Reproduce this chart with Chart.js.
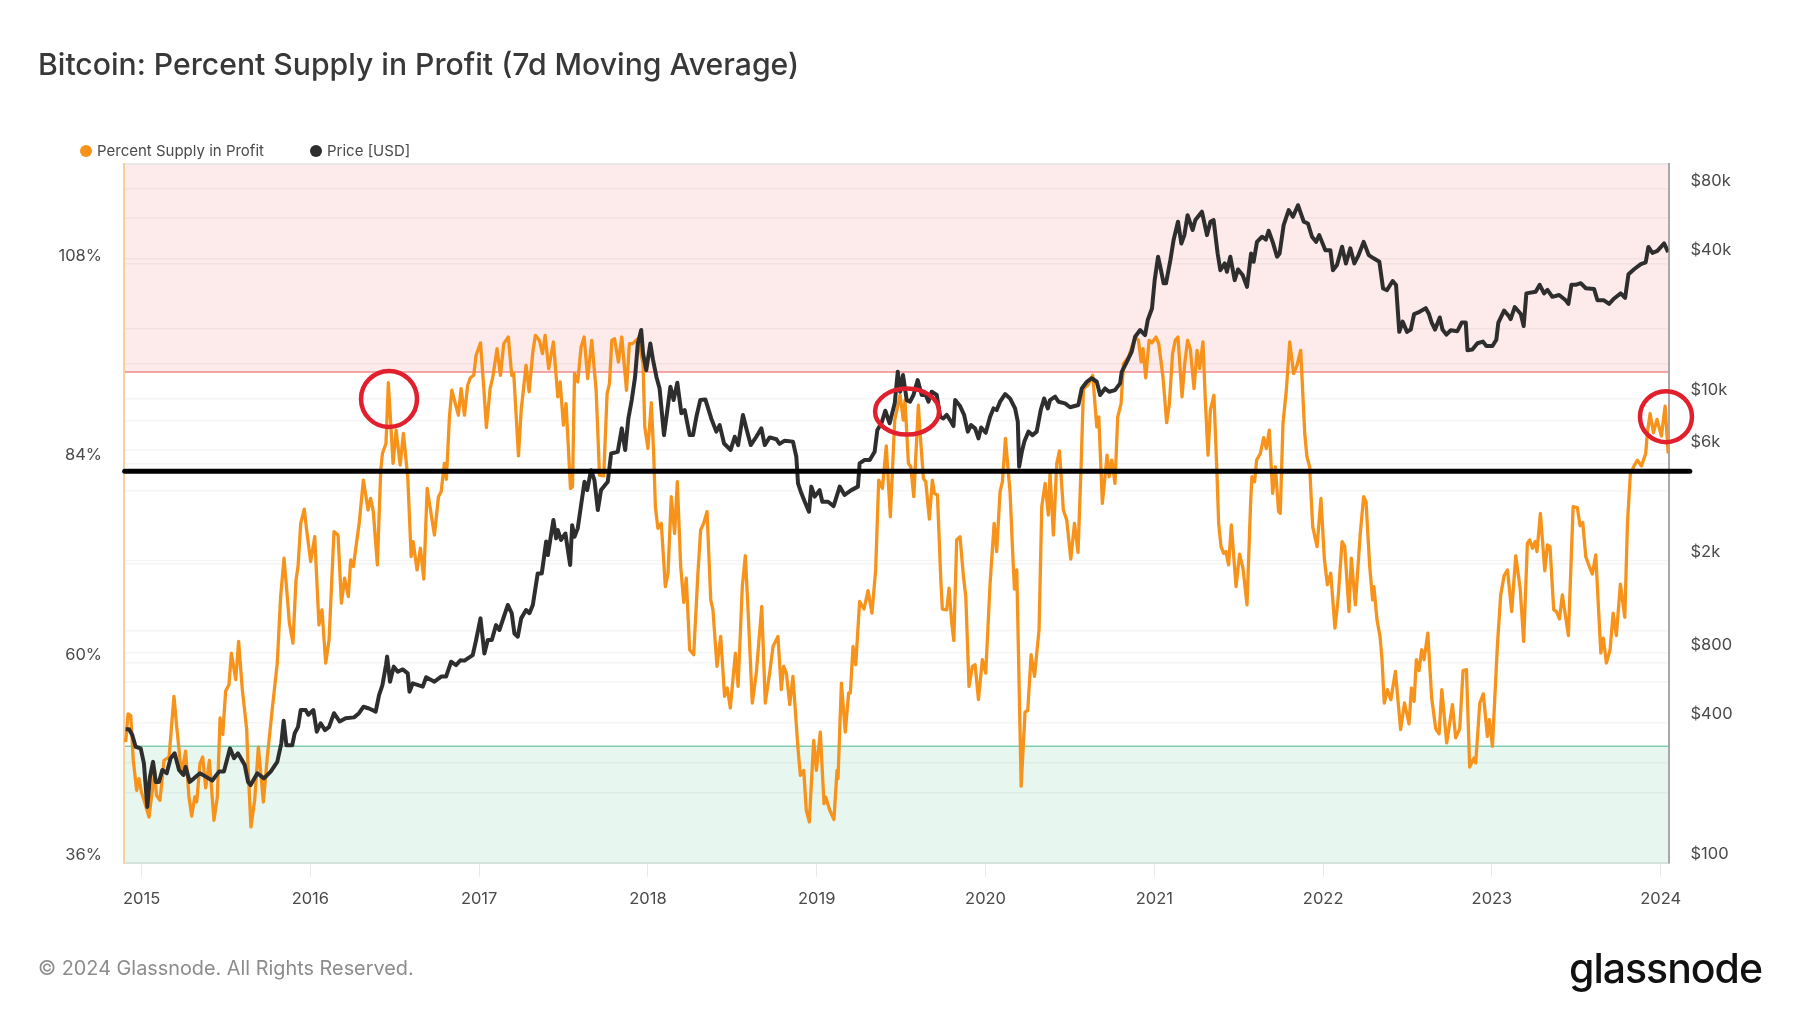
<!DOCTYPE html>
<html>
<head>
<meta charset="utf-8">
<title>Bitcoin: Percent Supply in Profit</title>
<script src="https://cdn.jsdelivr.net/npm/chart.js@4"></script>
<style>
    html, body { margin: 0; padding: 0; background: #fff; }
    body { width: 1800px; height: 1013px; position: relative; overflow: hidden; font-family: Inter, sans-serif; }
    canvas { position: absolute; left: 0; top: 0; }
    .title { position: absolute; left: 38px; top: 46px; font-size: 30.15px; font-weight: 500; color: #383838; white-space: nowrap; }
    .legend { position: absolute; top: 141px; font-size: 15px; color: #4a4a4a; white-space: nowrap; }
    .legend i { display: inline-block; width: 12px; height: 12px; border-radius: 50%; margin-right: 5px; vertical-align: -1px; }
    .footer { position: absolute; left: 38px; top: 956px; font-size: 19.85px; color: #8c8c8c; white-space: nowrap; }
    .logo { position: absolute; left: 1569px; top: 943px; font-size: 41px; font-weight: 500; letter-spacing: -1px; color: #111; white-space: nowrap; }
</style>
</head>
<body>
<canvas id="chart" width="1800" height="1013"></canvas>
<div class="title">Bitcoin: Percent Supply in Profit (7d Moving Average)</div>
<div class="legend" id="legend-0" style="left:80px"></div>
<div class="legend" id="legend-1" style="left:310px"></div>
<div class="footer">© 2024 Glassnode. All Rights Reserved.</div>
<div class="logo">glassnode</div>

<script>
const seriesNames = ['Percent Supply in Profit', 'Price [USD]'];
const seriesColors = ['#f7931a', '#2e2e2e'];

const yearTicks = [2015, 2016, 2017, 2018, 2019, 2020, 2021, 2022, 2023, 2024];
const percentTicks = [36, 48, 60, 72, 84, 96, 108, 120];
const percentLabels = { 36: '36%', 60: '60%', 84: '84%', 108: '108%' };
const priceTicks = [100, 200, 400, 600, 800, 1000, 2000, 4000, 6000, 8000, 10000, 20000, 40000, 60000, 80000];
const priceLabels = { 100: '$100', 400: '$400', 800: '$800', 2000: '$2k', 6000: '$6k', 10000: '$10k', 40000: '$40k', 80000: '$80k' };

const profitZoneFloor = 95;
const lossZoneCeiling = 50;
const referenceLevel = 83.05;
const referenceDates = [2014.9, 2024.172];

// year, percent, and the drawn radius of each hand marked ring
const ringDates = [2016.466, 2019.535, 2024.031];
const ringPercents = [91.75, 90.24, 89.62];
const ringRadiiX = [28, 32, 26];
const ringRadiiY = [28, 23, 25.5];

const supplyDates = [
    2014.906,2014.920,2014.936,2014.951,2014.971,2014.985,2014.999,2015.018,2015.044,2015.064,
    2015.078,2015.088,2015.109,2015.133,2015.163,2015.192,2015.208,2015.222,2015.236,2015.261,
    2015.281,2015.297,2015.315,2015.327,2015.346,2015.362,2015.380,2015.402,2015.429,2015.449,
    2015.465,2015.481,2015.498,2015.518,2015.532,2015.558,2015.575,2015.597,2015.623,2015.631,
    2015.648,2015.670,2015.692,2015.722,2015.745,2015.775,2015.804,2015.824,2015.844,2015.860,
    2015.876,2015.897,2015.915,2015.927,2015.943,2015.964,2015.978,2016.002,2016.026,2016.051,
    2016.069,2016.091,2016.111,2016.140,2016.164,2016.184,2016.203,2016.225,2016.239,2016.255,
    2016.269,2016.290,2016.314,2016.342,2016.357,2016.373,2016.397,2016.417,2016.427,2016.448,

    2016.462,2016.490,2016.508,2016.532,2016.551,2016.577,2016.597,2016.609,2016.632,2016.652,
    2016.672,2016.692,2016.735,2016.759,2016.775,2016.794,2016.806,2016.824,2016.838,2016.877,
    2016.893,2016.913,2016.932,2016.948,2016.968,2016.982,2017.008,2017.027,2017.043,2017.065,
    2017.081,2017.106,2017.126,2017.146,2017.173,2017.193,2017.205,2017.233,2017.249,2017.278,
    2017.296,2017.318,2017.333,2017.357,2017.375,2017.391,2017.412,2017.440,2017.466,2017.480,
    2017.499,2017.515,2017.541,2017.553,2017.565,2017.584,2017.604,2017.622,2017.643,2017.667,
    2017.693,2017.713,2017.738,2017.758,2017.772,2017.786,2017.802,2017.825,2017.845,2017.873,
    2017.890,2017.910,2017.940,

    2017.957,2017.971,2017.981,2018.000,2018.020,2018.034,2018.044,2018.059,2018.079,2018.103,
    2018.119,2018.138,2018.158,2018.174,2018.194,2018.212,2018.227,2018.247,2018.271,2018.296,
    2018.312,2018.330,2018.350,2018.372,2018.385,2018.409,2018.431,2018.454,2018.470,2018.488,
    2018.518,2018.534,2018.559,2018.577,2018.593,2018.618,2018.642,2018.674,2018.695,2018.721,
    2018.741,2018.770,2018.790,2018.804,2018.820,2018.840,2018.859,2018.889,2018.903,2018.923,
    2018.938,2018.956,2018.982,2018.998,2019.021,2019.043,2019.053,2019.077,2019.102,2019.120,
    2019.126,2019.146,2019.169,2019.189,2019.199,2019.215,2019.231,2019.254,2019.280,2019.304,
    2019.327,2019.349,2019.367,2019.389,2019.412,2019.436,2019.462,

    2019.494,2019.513,2019.523,2019.543,2019.557,2019.575,2019.602,2019.614,2019.632,2019.646,
    2019.667,2019.685,2019.697,2019.715,2019.735,2019.744,2019.770,2019.784,2019.800,2019.812,
    2019.829,2019.849,2019.869,2019.883,2019.902,2019.922,2019.938,2019.958,2019.981,2020.001,
    2020.027,2020.051,2020.066,2020.086,2020.100,2020.118,2020.145,2020.165,2020.171,2020.185,
    2020.211,2020.234,2020.250,2020.270,2020.290,2020.317,2020.333,2020.353,2020.372,2020.382,
    2020.402,2020.422,2020.438,2020.461,2020.481,2020.505,2020.527,2020.548,2020.566,2020.580,
    2020.606,2020.635,2020.659,2020.671,2020.692,2020.720,2020.732,2020.748,2020.767,2020.783,
    2020.803,2020.817,2020.847,2020.886,2020.906,2020.922,2020.933,2020.949,2020.969,

    2020.986,2021.010,2021.026,2021.051,2021.073,2021.089,2021.108,2021.124,2021.140,2021.164,
    2021.180,2021.197,2021.213,2021.235,2021.253,2021.268,2021.288,2021.302,2021.318,2021.332,
    2021.353,2021.371,2021.381,2021.395,2021.411,2021.424,2021.440,2021.456,2021.484,2021.505,
    2021.525,2021.549,2021.571,2021.578,2021.594,2021.606,2021.628,2021.648,2021.663,2021.681,
    2021.701,2021.717,2021.736,2021.746,2021.762,2021.782,2021.802,2021.825,2021.845,2021.867,
    2021.891,2021.904,2021.920,2021.938,2021.964,2021.987,2022.007,2022.025,2022.045,2022.070,
    2022.088,2022.112,2022.128,2022.153,2022.167,2022.191,2022.220,2022.240,2022.254,2022.276,
    2022.293,2022.301,2022.319,2022.337,2022.349,2022.362,2022.381,2022.401,2022.428,2022.459,
    2022.482,

    2022.509,2022.523,2022.539,2022.552,2022.568,2022.584,2022.598,2022.620,2022.643,2022.667,
    2022.687,2022.703,2022.732,2022.766,2022.785,2022.809,2022.829,2022.849,2022.868,2022.894,
    2022.904,2022.928,2022.949,2022.973,2022.985,2023.003,2023.032,2023.052,2023.072,2023.092,
    2023.117,2023.141,2023.167,2023.188,2023.210,2023.224,2023.240,2023.256,2023.267,2023.287,
    2023.313,2023.329,2023.344,2023.366,2023.382,2023.400,2023.417,2023.453,2023.481,2023.506,
    2023.522,2023.538,2023.556,2023.575,2023.595,2023.615,2023.645,2023.660,2023.678,2023.700,
    2023.718,2023.737,2023.761,2023.787,2023.803,2023.820,2023.842,2023.862,2023.886,2023.911,
    2023.921,2023.937,2023.957,2023.978,2024.004,2024.026,2024.044
];

const supplyValues = [
    50.5,53.9,53.7,48.3,44.7,46.1,44.5,43.3,41.5,44.7,
    47.1,44.1,43.5,48.3,48.7,56.0,52.4,49.6,46.7,49.4,
    43.9,41.6,43.9,43.3,47.9,48.7,45.0,48.3,41.1,43.9,
    53.4,51.4,56.6,57.4,61.2,58.0,62.6,56.8,52.0,47.5,
    40.3,43.5,49.9,43.3,48.7,54.6,60.0,68.0,72.6,68.8,
    64.8,62.4,70.0,71.6,76.8,78.5,76.0,72.2,75.2,64.6,
    66.4,60.0,62.8,75.8,75.4,67.2,70.2,68.0,72.4,71.6,
    73.8,76.9,82.0,78.4,79.8,78.2,71.8,83.2,85.2,86.4,

    93.7,84.0,88.0,83.8,87.6,82.4,72.8,74.6,71.2,73.8,
    70.1,81.0,75.4,80.0,80.6,84.0,82.1,89.6,92.8,89.8,
    93.0,89.8,93.4,94.3,94.6,97.0,98.5,93.2,88.3,93.0,
    94.4,97.8,94.6,98.4,99.2,94.6,94.8,84.9,90.4,95.8,
    92.6,97.4,99.4,98.8,97.2,99.4,95.4,98.6,92.0,93.8,
    88.6,91.2,81.0,81.2,94.8,93.8,98.0,99.2,94.2,98.8,
    92.8,82.6,82.5,92.4,93.6,98.8,99.0,96.2,99.2,92.8,
    98.4,98.4,99.0,

    97.4,96.0,88.4,85.8,91.3,85.2,78.8,76.2,76.8,69.2,
    70.8,80.0,75.6,81.8,71.6,67.3,70.2,61.6,61.0,70.8,
    76.0,76.8,78.2,67.6,66.4,59.6,63.2,56.0,57.0,54.6,
    61.2,57.2,69.2,72.9,66.4,55.2,58.8,66.8,55.2,58.8,
    62.0,63.2,56.8,59.6,58.8,55.0,58.4,49.7,46.5,47.1,
    42.3,40.9,50.7,47.1,51.7,43.1,43.9,42.3,41.2,47.1,
    46.1,57.6,51.7,56.4,56.4,62.0,59.8,67.4,66.5,68.7,
    66.0,71.2,82.0,81.0,86.1,77.6,89.2,

    92.2,89.2,91.6,84.0,83.6,80.0,91.0,87.2,82.2,81.8,
    77.3,82.0,80.4,80.2,70.0,66.5,66.4,69.0,64.8,62.7,
    74.8,75.2,70.4,68.0,57.2,59.6,59.8,55.6,60.4,58.8,
    69.6,76.8,73.4,80.6,81.8,87.0,80.6,71.4,68.9,71.2,
    45.2,54.1,54.3,61.0,58.4,64.0,78.8,81.6,77.8,82.8,
    75.4,84.0,85.5,78.4,77.2,72.5,76.8,73.3,83.6,93.0,
    93.4,94.6,88.4,89.6,79.2,85.0,82.4,84.4,81.6,89.6,
    91.2,96.0,96.8,99.2,98.8,96.2,97.8,94.3,98.8,

    98.5,99.2,98.4,94.4,88.9,91.2,97.2,98.8,99.2,92.0,
    96.0,98.8,97.8,93.0,97.6,95.4,98.6,91.6,85.0,90.4,
    92.2,82.8,76.8,74.0,73.2,73.4,71.8,76.6,69.2,73.1,
    71.4,67.0,79.6,82.4,81.8,84.4,85.2,87.1,85.8,88.0,
    80.4,83.6,78.2,78.0,88.8,92.8,98.6,94.8,95.8,97.6,
    87.6,84.8,83.6,76.4,74.0,79.8,72.6,69.4,70.8,64.2,
    67.6,74.6,74.0,66.2,72.6,67.0,75.6,80.0,79.4,71.6,
    67.6,69.2,65.2,63.2,60.4,55.2,56.8,55.6,59.0,52.0,
    55.2,

    52.7,57.0,55.4,60.4,59.1,61.6,60.4,63.6,55.8,52.1,
    51.5,56.8,50.4,55.0,51.0,52.1,59.1,59.2,47.5,48.6,
    48.0,55.2,56.3,51.2,53.2,50.0,62.0,68.2,70.5,71.2,
    66.2,72.9,69.0,62.6,74.4,74.8,73.8,74.6,73.4,78.0,
    71.1,74.2,74.0,66.4,66.2,65.3,68.2,63.3,78.8,78.7,
    76.5,76.9,72.8,71.7,70.7,73.0,61.2,63.0,60.0,61.6,
    66.0,63.3,69.5,65.5,76.9,82.7,83.7,84.4,83.7,85.2,
    87.7,90.0,87.7,89.3,87.3,90.9,85.2
];

const priceDates = [
    2014.906,2014.926,2014.945,2014.965,2014.995,2015.014,2015.034,2015.050,2015.068,2015.084,
    2015.103,2015.123,2015.149,2015.172,2015.196,2015.222,2015.248,2015.261,2015.285,2015.311,
    2015.346,2015.380,2015.419,2015.459,2015.488,2015.524,2015.548,2015.571,2015.611,2015.631,
    2015.646,2015.686,2015.725,2015.765,2015.804,2015.828,2015.842,2015.858,2015.893,2015.907,
    2015.927,2015.943,2015.972,2015.988,2016.018,2016.038,2016.061,2016.087,2016.111,2016.140,
    2016.174,2016.209,2016.259,2016.288,2016.314,2016.348,2016.387,2016.407,2016.427,2016.448,

    2016.455,2016.472,2016.494,2016.518,2016.547,2016.577,2016.587,2016.607,2016.666,2016.686,
    2016.735,2016.775,2016.804,2016.834,2016.863,2016.889,2016.913,2016.962,2016.982,2017.008,
    2017.031,2017.051,2017.075,2017.100,2017.120,2017.170,2017.193,2017.209,2017.229,2017.249,
    2017.278,2017.298,2017.318,2017.347,2017.371,2017.397,2017.407,2017.440,2017.456,2017.466,
    2017.485,2017.511,2017.539,2017.551,2017.565,2017.584,2017.604,2017.624,2017.640,2017.663,
    2017.683,2017.703,2017.722,2017.762,2017.782,2017.821,2017.845,2017.865,2017.884,2017.904,
    2017.924,2017.940,2017.960,

    2017.971,2017.990,2018.014,2018.030,2018.050,2018.069,2018.095,2018.115,2018.133,2018.152,
    2018.174,2018.198,2018.218,2018.247,2018.267,2018.287,2018.310,2018.340,2018.375,2018.405,
    2018.425,2018.451,2018.490,2018.514,2018.534,2018.563,2018.583,2018.609,2018.642,2018.672,
    2018.692,2018.721,2018.761,2018.780,2018.810,2018.859,2018.879,2018.889,2018.909,2018.929,
    2018.954,2018.968,2018.988,2019.017,2019.033,2019.067,2019.100,2019.136,2019.165,2019.205,
    2019.244,2019.254,2019.284,2019.314,2019.343,2019.359,2019.383,2019.406,2019.432,2019.462,

    2019.480,2019.494,2019.511,2019.533,2019.553,2019.573,2019.598,2019.622,2019.646,2019.662,
    2019.681,2019.711,2019.731,2019.750,2019.770,2019.790,2019.810,2019.820,2019.849,2019.873,
    2019.895,2019.914,2019.938,2019.958,2019.974,2020.001,2020.027,2020.047,2020.066,2020.086,
    2020.116,2020.145,2020.175,2020.191,2020.199,2020.215,2020.230,2020.254,2020.278,2020.303,
    2020.327,2020.347,2020.369,2020.382,2020.412,2020.432,2020.471,2020.501,2020.550,2020.570,
    2020.600,2020.629,2020.659,2020.679,2020.708,2020.732,2020.767,2020.797,2020.807,2020.837,
    2020.866,2020.886,2020.916,2020.945,2020.961,

    2020.986,2021.002,2021.022,2021.035,2021.055,2021.069,2021.095,2021.114,2021.140,2021.160,
    2021.178,2021.197,2021.227,2021.243,2021.282,2021.312,2021.332,2021.351,2021.375,2021.391,
    2021.417,2021.430,2021.450,2021.476,2021.496,2021.523,2021.549,2021.573,2021.588,2021.608,
    2021.638,2021.661,2021.677,2021.701,2021.727,2021.742,2021.766,2021.796,2021.821,2021.851,
    2021.885,2021.910,2021.934,2021.958,2021.977,2022.013,2022.043,2022.058,2022.082,2022.112,
    2022.135,2022.161,2022.185,2022.210,2022.240,2022.270,2022.299,2022.333,2022.355,2022.378,
    2022.412,2022.432,2022.451,2022.471,2022.497,

    2022.519,2022.539,2022.564,2022.584,2022.608,2022.627,2022.643,2022.663,2022.691,2022.707,
    2022.730,2022.756,2022.795,2022.821,2022.845,2022.855,2022.884,2022.914,2022.947,2022.967,
    2023.003,2023.026,2023.038,2023.072,2023.102,2023.111,2023.135,2023.171,2023.188,2023.204,
    2023.259,2023.283,2023.309,2023.329,2023.358,2023.398,2023.437,2023.453,2023.471,2023.496,
    2023.526,2023.556,2023.605,2023.625,2023.664,2023.694,2023.724,2023.763,2023.789,2023.809,
    2023.842,2023.882,2023.911,2023.927,2023.951,2023.980,2024.020,2024.044
];

const priceValues = [
    376,376,355,316,311,268,174,235,272,223,
    223,251,243,282,296,251,239,259,223,231,
    243,235,226,247,247,311,282,296,264,223,
    216,243,231,247,272,327,409,321,321,361,
    385,455,455,434,455,367,399,373,385,441,
    406,419,423,441,470,462,448,528,583,711,

    773,603,700,665,681,655,546,593,574,630,
    603,634,634,735,711,746,743,785,912,1130,
    798,912,912,1057,1007,1291,1189,973,942,1130,
    1227,1189,1291,1766,1766,2421,2118,2999,2500,2716,
    2460,2624,1919,2851,2541,2761,3483,4385,4036,4920,
    4457,3311,4036,4385,5808,5902,7447,6012,8222,9863,
    12445,17298,19770,

    15670,13270,17298,14690,12445,11070,6966,8933,11270,9863,
    11720,8650,8933,6966,6966,8356,9863,9931,8222,7211,
    7691,6412,6012,6855,6310,8511,7447,6310,6855,7447,
    6310,6808,6683,6383,6592,6531,5623,4315,3908,3597,
    3258,4178,3784,4036,3597,3597,3443,4178,3846,4036,
    4178,5260,5445,5445,5902,7328,7834,8872,7834,9550,

    13060,10715,12650,9863,9705,10375,12020,10375,10375,9705,
    10715,10375,8356,8222,8511,8091,7621,9863,9290,8511,
    7211,7691,7447,6745,7516,7129,8356,9078,8933,9705,
    10470,10025,9078,7962,5093,5902,6531,7211,6966,7211,
    8933,10025,9078,9863,10200,9705,9550,9183,9397,11070,
    11830,12250,11830,10375,11070,10715,10890,11640,13060,14420,
    15960,18490,19770,18790,21830,

    24490,32430,40930,37070,31410,31410,39540,48310,57940,46670,
    50700,61800,53330,58880,63970,50700,57940,58880,42270,35810,
    38280,35240,40930,32430,36060,34120,30340,42270,38900,47420,
    49890,48530,52970,47420,40930,42270,55980,65010,60810,68230,
    57940,56890,49890,47420,50700,43650,43650,35810,37670,45190,
    38280,44460,38280,41590,47420,41590,40270,38900,29850,29380,
    32140,30900,19410,21480,19410,

    19860,23170,23550,23990,24550,23170,21280,19860,22390,19860,
    18880,19720,19540,21280,21280,16180,16290,17340,17620,16870,
    16870,17950,21280,23990,22590,22030,24830,23170,20560,28440,
    28910,30970,28440,29440,27480,27990,26550,25640,30970,30970,
    31480,29920,29720,26550,26550,25640,27040,28440,27230,34360,
    36140,38020,38730,45080,42460,43350,46670,42850
];

seriesNames.forEach((name, i) => {
    document.getElementById(`legend-${i}`).innerHTML = `<i style="background:${seriesColors[i]}"></i>${name}`;
});

const toPoints = (dates, values) => dates.map((x, i) => ({ x, y: values[i] }));

// paints the two shaded zones under the grid, with their edge lines
const zonesPlugin = {
    id: 'zones',
    beforeDraw(chart) {
        const { ctx, chartArea: { left, right, top, bottom }, scales: { y } } = chart;
        const high = y.getPixelForValue(profitZoneFloor);
        const low = y.getPixelForValue(lossZoneCeiling);
        ctx.save();
        ctx.fillStyle = '#fdeaea';
        ctx.fillRect(left, top, right - left, high - top);
        ctx.fillStyle = '#e7f7ef';
        ctx.fillRect(left, low, right - left, bottom - low);
        ctx.lineWidth = 1.5;
        ctx.strokeStyle = '#f08a8a';
        ctx.beginPath(); ctx.moveTo(left, high); ctx.lineTo(right, high); ctx.stroke();
        ctx.strokeStyle = '#80cdb2';
        ctx.beginPath(); ctx.moveTo(left, low); ctx.lineTo(right, low); ctx.stroke();
        ctx.strokeStyle = '#ececec';
        ctx.beginPath(); ctx.moveTo(left, top); ctx.lineTo(right, top); ctx.stroke();
        ctx.restore();
    }
};

const ringsPlugin = {
    id: 'rings',
    afterDatasetsDraw(chart) {
        const { ctx, scales: { x, y } } = chart;
        ctx.save();
        ctx.strokeStyle = '#e11f2d';
        ctx.lineWidth = 4.5;
        ringDates.forEach((date, i) => {
            ctx.beginPath();
            ctx.ellipse(x.getPixelForValue(date), y.getPixelForValue(ringPercents[i]), ringRadiiX[i], ringRadiiY[i], 0, 0, Math.PI * 2);
            ctx.stroke();
        });
        ctx.restore();
    }
};

const tickFont = { family: 'Inter', size: 16.5 };
const softGrid = { color: 'rgba(0,0,0,0.04)', lineWidth: 1.5, drawTicks: false };

new Chart(document.getElementById('chart'), {
    type: 'line',
    data: {
        datasets: [
            {
                label: 'Reference level',
                data: referenceDates.map(x => ({ x, y: referenceLevel })),
                yAxisID: 'y',
                borderColor: '#000',
                borderWidth: 5,
                borderCapStyle: 'round',
                pointRadius: 0,
                clip: false,
                order: 0
            },
            {
                label: seriesNames[1],
                data: toPoints(priceDates, priceValues),
                yAxisID: 'yPrice',
                borderColor: seriesColors[1],
                borderWidth: 4,
                borderJoinStyle: 'round',
                pointRadius: 0,
                order: 1
            },
            {
                label: seriesNames[0],
                data: toPoints(supplyDates, supplyValues),
                yAxisID: 'y',
                borderColor: seriesColors[0],
                borderWidth: 3.3,
                borderJoinStyle: 'round',
                pointRadius: 0,
                order: 2
            }
        ]
    },
    options: {
        responsive: false,
        animation: false,
        devicePixelRatio: 1,
        layout: { padding: { top: 164, left: 0, right: 0, bottom: 0 } },
        plugins: { legend: { display: false }, title: { display: false }, tooltip: { enabled: false } },
        scales: {
            x: {
                type: 'linear',
                min: 2014.896,
                max: 2024.046,
                afterBuildTicks: (scale) => { scale.ticks = yearTicks.map(value => ({ value })); },
                afterFit: (scale) => { scale.height = 150.3; },
                grid: { drawOnChartArea: false, tickLength: 14, color: '#e8e8e8' },
                border: { color: '#d3e3dd', width: 2 },
                ticks: { font: tickFont, color: '#4a4a4a', padding: 12, maxRotation: 0, autoSkip: false, callback: (v) => String(v) }
            },
            y: {
                position: 'left',
                min: 36,
                max: 120,
                afterBuildTicks: (scale) => { scale.ticks = percentTicks.map(value => ({ value })); },
                afterFit: (scale) => { scale.width = 124; },
                grid: softGrid,
                border: { color: '#f8cfa0', width: 2 },
                ticks: { font: tickFont, color: '#4a4a4a', padding: 22, labelOffset: -8, autoSkip: false, callback: (v) => percentLabels[v] || '' }
            },
            yPrice: {
                type: 'logarithmic',
                position: 'right',
                min: 100,
                max: 102700,
                afterBuildTicks: (scale) => { scale.ticks = priceTicks.map(value => ({ value })); },
                afterFit: (scale) => { scale.width = 131.5; },
                grid: softGrid,
                border: { color: '#a8a8a8', width: 2 },
                ticks: { font: tickFont, color: '#4a4a4a', padding: 22, labelOffset: -8.5, autoSkip: false, callback: (v) => priceLabels[v] || '' }
            }
        }
    },
    plugins: [zonesPlugin, ringsPlugin]
});
</script>
</body>
</html>
